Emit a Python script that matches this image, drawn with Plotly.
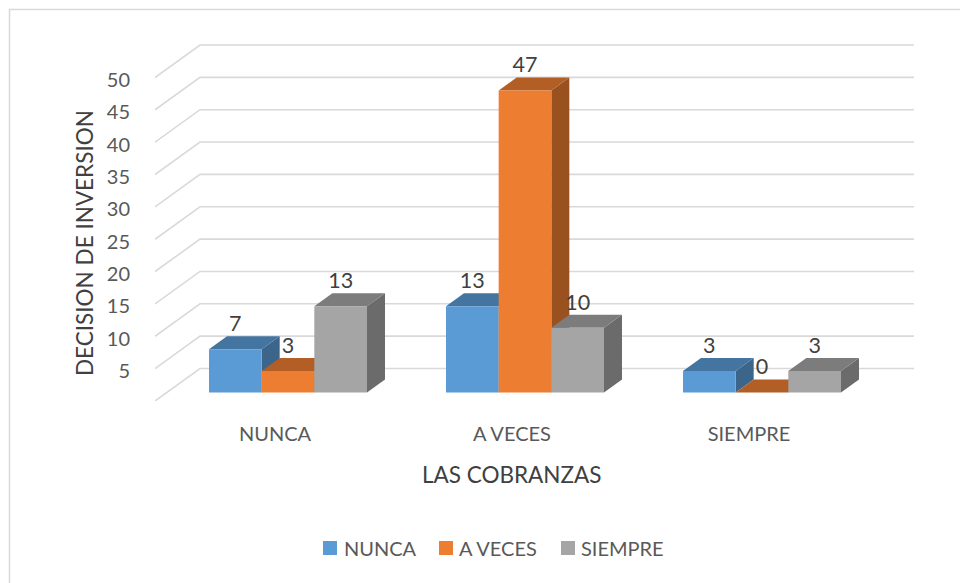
import plotly.graph_objects as go

categories = ["NUNCA", "A VECES", "SIEMPRE"]
series_names = ["NUNCA", "A VECES", "SIEMPRE"]
nunca = [6.67, 13.33, 3.33]
a_veces = [3.33, 46.67, 0]
siempre = [13.33, 10, 3.33]
y_ticks = [0, 5, 10, 15, 20, 25, 30, 35, 40, 45, 50]
colors = ["#5B9BD5", "#ED7D31", "#A5A5A5"]
top_colors = ["#4474A0", "#B25E25", "#7C7C7C"]
side_colors = ["#3B658A", "#9A5120", "#6B6B6B"]

W, H = 960, 583
L, R, T, B = 155, 914, 30, 401          # plot box in pixels
PX_Y = 6.47                              # pixels per value unit
PX_X = 237.0                             # pixels per category
CENTER0 = 288.0                          # pixel of the first category centre
x_range = [(L - CENTER0) / PX_X, (R - CENTER0) / PX_X]
y_range = [0, (B - T) / PX_Y]
BAR_W = 1 / 4.5
BASE = 8.5 / PX_Y                        # floor position of the bars' front
DEPTH_X, DEPTH_Y = 18 / PX_X, 13 / PX_Y  # bar depth
WALL_X, WALL_Y = 45 / PX_X, 32.5 / PX_Y  # wall depth
LABEL_UP = 23.5 / PX_Y
GRID = "#D9D9D9"
FONT = "Lato"
LEGEND_SWATCH_X = [323, 439, 561]
LEGEND_TEXT_X = [343, 458, 580]


def px(x):
    return (x - L) / (R - L)


def py(y):
    return (B - y) / (B - T)


fig = go.Figure()

# gridlines: floor-to-wall diagonal, then along the back wall
for t in y_ticks:
    fig.add_trace(go.Scatter(
        x=[x_range[0], x_range[0] + WALL_X, x_range[1]],
        y=[t, t + WALL_Y, t + WALL_Y],
        mode="lines", line=dict(color=GRID, width=1.6),
        showlegend=False, hoverinfo="skip", cliponaxis=False))

all_series = [nunca, a_veces, siempre]

# side and top faces, painted left to right
for c in range(len(categories)):
    for s, vals in enumerate(all_series):
        x0 = c + (s - 1.5) * BAR_W
        x1 = x0 + BAR_W
        v = vals[c] + BASE
        fig.add_trace(go.Scatter(
            x=[x1, x1 + DEPTH_X, x1 + DEPTH_X, x1, x1],
            y=[BASE, BASE + DEPTH_Y, v + DEPTH_Y, v, BASE],
            mode="lines", fill="toself", fillcolor=side_colors[s],
            line=dict(width=0), showlegend=False, hoverinfo="skip"))
        fig.add_trace(go.Scatter(
            x=[x0, x0 + DEPTH_X, x1 + DEPTH_X, x1, x0],
            y=[v, v + DEPTH_Y, v + DEPTH_Y, v, v],
            mode="lines", fill="toself", fillcolor=top_colors[s],
            line=dict(width=0), showlegend=False, hoverinfo="skip"))

# front faces on an overlaying axis pair, so they sit above the faces behind
for s, vals in enumerate(all_series):
    fig.add_trace(go.Bar(
        x=list(range(len(categories))), y=vals, base=BASE, name=series_names[s],
        marker=dict(color=colors[s], line=dict(width=0)),
        showlegend=False, xaxis="x2", yaxis="y2"))

# data labels
for s, vals in enumerate(all_series):
    fig.add_trace(go.Scatter(
        x=[c + (s - 1) * BAR_W for c in range(len(categories))],
        y=[v + BASE + LABEL_UP for v in vals],
        text=[str(round(v)) for v in vals],
        mode="text", textposition="middle center",
        textfont=dict(family=FONT, size=21.5, color="#404040"),
        showlegend=False, hoverinfo="skip", xaxis="x2", yaxis="y2", cliponaxis=False))

tick_font = dict(family=FONT, size=20, color="#595959")
title_font = dict(family=FONT, size=22.5, color="#404040")

shapes = [dict(type="rect", xref="paper", yref="paper",
               x0=px(9.5), x1=px(975), y0=py(9.5), y1=py(600),
               line=dict(color=GRID, width=1.5), fillcolor="rgba(0,0,0,0)", layer="below")]
annotations = [
    dict(text="LAS COBRANZAS", xref="paper", yref="paper", x=px(512), y=py(474),
         xanchor="center", yanchor="middle", showarrow=False, font=title_font),
    dict(text="DECISION DE INVERSION", xref="paper", yref="paper", x=px(84), y=py(243),
         xanchor="center", yanchor="middle", textangle=-90, showarrow=False, font=title_font),
]
# legend drawn to the reference's tight swatch-to-text spacing
for s, name in enumerate(series_names):
    shapes.append(dict(type="rect", xref="paper", yref="paper",
                       x0=px(LEGEND_SWATCH_X[s]), x1=px(LEGEND_SWATCH_X[s] + 14),
                       y0=py(541), y1=py(555), line=dict(width=0), fillcolor=colors[s]))
    annotations.append(dict(text=name, xref="paper", yref="paper", x=px(LEGEND_TEXT_X[s]), y=py(548),
                            xanchor="left", yanchor="middle", xshift=-1, showarrow=False,
                            font=dict(family=FONT, size=20, color="#595959")))

fig.update_layout(
    width=W, height=H, autosize=False,
    margin=dict(l=L, r=W - R, t=T, b=H - B),
    paper_bgcolor="white", plot_bgcolor="white",
    showlegend=False,
    barmode="group", bargap=1 / 3, bargroupgap=0,
    xaxis=dict(range=x_range, tickmode="array",
               tickvals=[c - 13 / PX_X for c in range(len(categories))],
               ticktext=categories, tickfont=tick_font, showgrid=False, zeroline=False,
               showline=False, ticks="outside", ticklen=15, tickcolor="rgba(0,0,0,0)"),
    yaxis=dict(range=y_range, tickmode="array",
               tickvals=[t - 2.5 / PX_Y for t in y_ticks],
               ticktext=[str(t) for t in y_ticks], tickfont=tick_font,
               showgrid=False, zeroline=False, showline=False, ticks="outside",
               ticklen=20, tickcolor="rgba(0,0,0,0)"),
    xaxis2=dict(range=x_range, overlaying="x", visible=False),
    yaxis2=dict(range=y_range, overlaying="y", visible=False),
    shapes=shapes,
    annotations=annotations,
)

fig.write_html("out.html", config={"displayModeBar": False},
               post_script="document.body.style.margin='0';document.body.style.overflow='hidden';")
